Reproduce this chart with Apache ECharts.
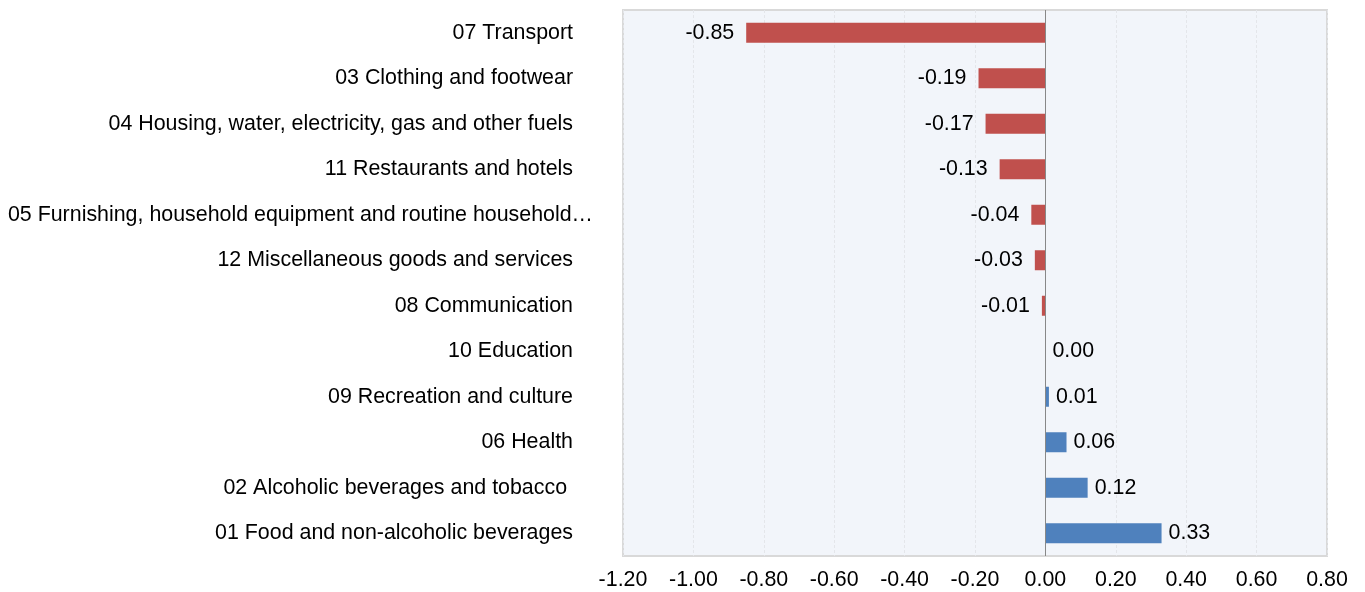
<!DOCTYPE html>
<html>
<head>
<meta charset="utf-8">
<script src="https://cdn.jsdelivr.net/npm/echarts@6/dist/echarts.min.js"></script>
<style>
html,body{margin:0;padding:0;background:#fff;}
#chart{width:1365px;height:592px;}
</style>
</head>
<body>
<div id="chart"></div>
<script>
const categories = [
  '07 Transport',
  '03 Clothing and footwear',
  '04 Housing, water, electricity, gas and other fuels',
  '11 Restaurants and hotels',
  '05 Furnishing, household equipment and routine household\u2026',
  '12 Miscellaneous goods and services',
  '08 Communication',
  '10 Education',
  '09 Recreation and culture',
  '06 Health',
  '02 Alcoholic beverages and tobacco ',
  '01 Food and non-alcoholic beverages'
];
const values = [-0.85, -0.19, -0.17, -0.13, -0.04, -0.03, -0.01, 0.00, 0.01, 0.06, 0.12, 0.33];
const xTicks = { min: -1.2, max: 0.8, interval: 0.2 };

const FONT = '"Liberation Sans", Arial, sans-serif';
const FS = 21.4;
const chart = echarts.init(document.getElementById('chart'));

const seriesData = values.map(v => ({
  value: v,
  itemStyle: { color: v < 0 ? '#c0504d' : '#4f81bd' },
  label: v < 0 ? { position: 'left', distance: 12 } : { position: 'right', distance: 7 }
}));

const yData = categories.map(c => c.endsWith('\u2026')
  ? { value: c, textStyle: { padding: [4, -20, 0, 0] } }
  : c);

chart.setOption({
  animation: false,
  backgroundColor: '#ffffff',
  grid: {
    left: 623, right: 38, top: 10, bottom: 36,
    show: true, backgroundColor: '#f2f5fa', borderColor: '#d9d9d9', borderWidth: 2
  },
  xAxis: {
    type: 'value',
    min: xTicks.min, max: xTicks.max, interval: xTicks.interval,
    axisLine: { show: false },
    axisTick: { show: false },
    splitLine: { show: true, lineStyle: { color: '#e4e6ea', type: [3, 2], width: 1 } },
    axisLabel: {
      margin: 14, color: '#000', fontSize: FS, fontFamily: FONT,
      formatter: v => v.toFixed(2)
    }
  },
  yAxis: {
    type: 'category',
    inverse: true,
    data: yData,
    axisLine: { show: false, onZero: false },
    axisTick: { show: false },
    splitLine: { show: false },
    axisLabel: { margin: 50, color: '#000', fontSize: FS, fontFamily: FONT, padding: [4, 0, 0, 0] }
  },
  series: [{
    type: 'bar',
    data: seriesData,
    barWidth: 20,
    label: {
      show: true, color: '#000', fontSize: FS, fontFamily: FONT,
      padding: [4, 0, 0, 0],
      formatter: p => p.value.toFixed(2)
    },
    markLine: {
      silent: true,
      symbol: 'none',
      label: { show: false },
      lineStyle: { color: '#888888', type: 'solid', width: 1 },
      data: [{ xAxis: 0 }]
    }
  }]
});
</script>
</body>
</html>
